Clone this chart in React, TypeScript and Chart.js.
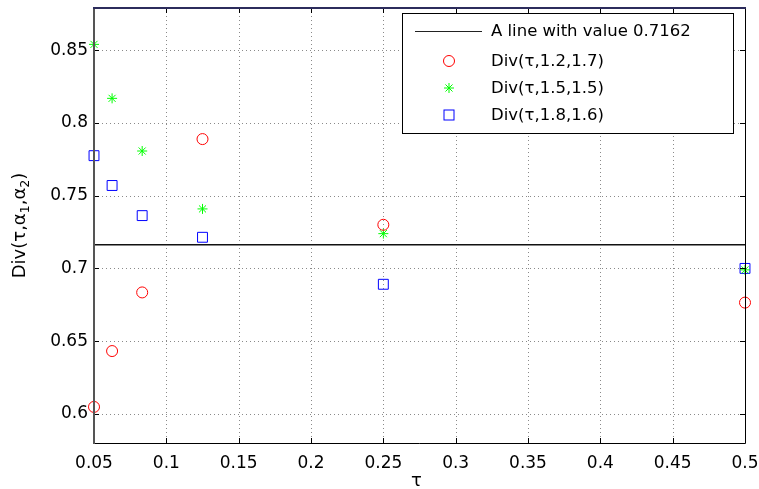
import React, { useEffect, useRef } from 'react';
import { Chart, registerables } from 'chart.js';

Chart.register(...registerables);

const tau = [0.05, 0.0625, 0.0833, 0.125, 0.25, 0.5];
const divA = [0.6048, 0.6432, 0.6835, 0.7889, 0.73, 0.6765];
const divB = [0.854, 0.8169, 0.7807, 0.7409, 0.7239, 0.699];
const divC = [0.7775, 0.757, 0.7363, 0.7214, 0.6891, 0.7];
const lineValue = 0.7162;
const xTicks = [0.05, 0.1, 0.15, 0.2, 0.25, 0.3, 0.35, 0.4, 0.45, 0.5];
const yTicks = [0.6, 0.65, 0.7, 0.75, 0.8, 0.85];
const legendLabels = [
  'A line with value 0.7162',
  'Div(τ,1.2,1.7)',
  'Div(τ,1.5,1.5)',
  'Div(τ,1.8,1.6)',
];

const FONT = "'DejaVu Sans', sans-serif";

function fmt(v: number) {
  return String(Number(v.toFixed(2)));
}

function drawMarker(ctx: CanvasRenderingContext2D, kind: string, x: number, y: number) {
  ctx.save();
  ctx.lineWidth = 1;
  if (kind === 'circle') {
    ctx.strokeStyle = '#ff0000';
    ctx.beginPath();
    ctx.arc(x, y, 5.5, 0, Math.PI * 2);
    ctx.stroke();
  } else if (kind === 'star') {
    ctx.strokeStyle = '#00ff00';
    const r = 5;
    const d = r * Math.SQRT1_2;
    ctx.beginPath();
    ctx.moveTo(x - r, y); ctx.lineTo(x + r, y);
    ctx.moveTo(x, y - r); ctx.lineTo(x, y + r);
    ctx.moveTo(x - d, y - d); ctx.lineTo(x + d, y + d);
    ctx.moveTo(x - d, y + d); ctx.lineTo(x + d, y - d);
    ctx.stroke();
  } else {
    ctx.strokeStyle = '#0000ff';
    ctx.strokeRect(x - 5, y - 5, 10, 10);
  }
  ctx.restore();
}

const decorPlugin = {
  id: 'decor',
  beforeDatasetsDraw(chart: any) {
    const ctx = chart.ctx as CanvasRenderingContext2D;
    const { left, right, top, bottom } = chart.chartArea;
    const xs = chart.scales.x;
    const ys = chart.scales.y;
    ctx.save();
    ctx.strokeStyle = '#8a8a8a';
    ctx.lineWidth = 1;
    ctx.setLineDash([1, 3]);
    xTicks.forEach((v) => {
      const px = Math.round(xs.getPixelForValue(v)) + 0.5;
      ctx.beginPath();
      ctx.moveTo(px, top);
      ctx.lineTo(px, bottom);
      ctx.stroke();
    });
    yTicks.forEach((v) => {
      const py = Math.round(ys.getPixelForValue(v)) + 0.5;
      ctx.beginPath();
      ctx.moveTo(left, py);
      ctx.lineTo(right, py);
      ctx.stroke();
    });
    ctx.restore();
  },
  afterDraw(chart: any) {
    const ctx = chart.ctx as CanvasRenderingContext2D;
    const { left, right, top, bottom } = chart.chartArea;
    const xs = chart.scales.x;
    const ys = chart.scales.y;
    ctx.save();
    // tick marks (inward)
    ctx.strokeStyle = '#000';
    ctx.lineWidth = 1;
    const tl = 5;
    xTicks.forEach((v) => {
      const px = Math.round(xs.getPixelForValue(v)) + 0.5;
      ctx.beginPath();
      ctx.moveTo(px, bottom); ctx.lineTo(px, bottom - tl);
      ctx.moveTo(px, top); ctx.lineTo(px, top + tl);
      ctx.stroke();
    });
    yTicks.forEach((v) => {
      const py = Math.round(ys.getPixelForValue(v)) + 0.5;
      ctx.beginPath();
      ctx.moveTo(left, py); ctx.lineTo(left + tl, py);
      ctx.moveTo(right, py); ctx.lineTo(right - tl, py);
      ctx.stroke();
    });
    // box
    ctx.strokeStyle = '#000';
    ctx.lineWidth = 1;
    ctx.beginPath();
    ctx.moveTo(right + 0.5, top);
    ctx.lineTo(right + 0.5, bottom + 0.5);
    ctx.lineTo(left, bottom + 0.5);
    ctx.stroke();
    ctx.strokeStyle = '#555';
    ctx.lineWidth = 2;
    ctx.beginPath();
    ctx.moveTo(left, top);
    ctx.lineTo(left, bottom + 1);
    ctx.stroke();
    ctx.strokeStyle = '#2c2c5c';
    ctx.lineWidth = 2;
    ctx.beginPath();
    ctx.moveTo(left - 1, top);
    ctx.lineTo(right + 1, top);
    ctx.stroke();

    // legend
    const lx0 = 402, ly0 = 13, lx1 = 733, ly1 = 133;
    ctx.fillStyle = '#fff';
    ctx.fillRect(lx0, ly0, lx1 - lx0, ly1 - ly0);
    ctx.strokeStyle = '#000';
    ctx.lineWidth = 1;
    ctx.strokeRect(lx0 + 0.5, ly0 + 0.5, lx1 - lx0, ly1 - ly0);
    const rows = [31, 61, 88, 115];
    ctx.beginPath();
    ctx.strokeStyle = '#222';
    ctx.lineWidth = 1.2;
    ctx.moveTo(415, rows[0] + 0.5);
    ctx.lineTo(482, rows[0] + 0.5);
    ctx.stroke();
    drawMarker(ctx, 'circle', 449, rows[1]);
    drawMarker(ctx, 'star', 449, rows[2]);
    drawMarker(ctx, 'square', 449, rows[3]);
    ctx.fillStyle = '#000';
    ctx.font = `16.5px ${FONT}`;
    ctx.textAlign = 'left';
    ctx.textBaseline = 'middle';
    legendLabels.forEach((t, i) => ctx.fillText(t, 491, rows[i] + 1));

    // x title
    ctx.font = `18px ${FONT}`;
    ctx.textAlign = 'center';
    ctx.fillText('τ', (left + right) / 2 - 3, 481);

    // y title with subscripts
    ctx.save();
    ctx.translate(19, (top + bottom) / 2);
    ctx.rotate(-Math.PI / 2);
    const big = `18px ${FONT}`;
    const small = `12.5px ${FONT}`;
    const parts: [string, boolean][] = [
      ['Div(τ,α', false], ['1', true], [',α', false], ['2', true], [')', false],
    ];
    let total = 0;
    parts.forEach(([s, sub]) => { ctx.font = sub ? small : big; total += ctx.measureText(s).width; });
    let cx = -total / 2;
    ctx.textAlign = 'left';
    ctx.textBaseline = 'alphabetic';
    parts.forEach(([s, sub]) => {
      ctx.font = sub ? small : big;
      ctx.fillText(s, cx, sub ? 10 : 6);
      cx += ctx.measureText(s).width;
    });
    ctx.restore();
    ctx.restore();
  },
};

export default function App() {
  const ref = useRef<HTMLCanvasElement | null>(null);
  useEffect(() => {
    if (!ref.current) return;
    const mk = (ys: number[]) => tau.map((x, i) => ({ x, y: ys[i] }));
    const chart = new Chart(ref.current, {
      type: 'scatter',
      data: {
        datasets: [
          {
            label: legendLabels[0],
            data: [{ x: xTicks[0], y: lineValue }, { x: xTicks[xTicks.length - 1], y: lineValue }],
            showLine: true,
            borderColor: '#111',
            borderWidth: 1.5,
            pointRadius: 0,
            clip: false,
          },
          {
            label: legendLabels[1],
            data: mk(divA),
            pointStyle: 'circle',
            pointRadius: 5.5,
            borderColor: '#ff0000',
            backgroundColor: 'rgba(0,0,0,0)',
            borderWidth: 1,
            clip: false,
          },
          {
            label: legendLabels[2],
            data: mk(divB),
            pointStyle: 'star',
            pointRadius: 5,
            borderColor: '#00ff00',
            backgroundColor: 'rgba(0,0,0,0)',
            borderWidth: 1,
            clip: false,
          },
          {
            label: legendLabels[3],
            data: mk(divC),
            pointStyle: 'rect',
            pointRadius: 7,
            borderColor: '#0000ff',
            backgroundColor: 'rgba(0,0,0,0)',
            borderWidth: 1,
            clip: false,
          },
        ],
      },
      options: {
        animation: false,
        responsive: false,
        maintainAspectRatio: false,
        layout: { padding: { left: 0, top: 6, right: 14, bottom: 0 } },
        plugins: { legend: { display: false }, tooltip: { enabled: false } },
        scales: {
          x: {
            type: 'linear',
            min: 0.05,
            max: 0.5,
            grid: { display: false, drawTicks: false },
            border: { display: false },
            afterBuildTicks: (s: any) => { s.ticks = xTicks.map((v) => ({ value: v })); },
            afterFit: (s: any) => { s.height = 46; s.paddingLeft = 0; s.paddingRight = 0; },
            ticks: {
              color: '#000',
              font: { family: FONT, size: 17 },
              padding: 10,
              maxRotation: 0,
              autoSkip: false,
              callback: (v: any) => fmt(Number(v)),
            },
          },
          y: {
            type: 'linear',
            min: 0.58,
            max: 0.879,
            grid: { display: false, drawTicks: false },
            border: { display: false },
            afterBuildTicks: (s: any) => { s.ticks = yTicks.map((v) => ({ value: v })); },
            afterFit: (s: any) => { s.width = 94; s.paddingTop = 0; s.paddingBottom = 0; },
            ticks: {
              color: '#000',
              font: { family: FONT, size: 17 },
              padding: 6,
              autoSkip: false,
              callback: (v: any) => fmt(Number(v)),
            },
          },
        },
      },
      plugins: [decorPlugin],
    });
    return () => chart.destroy();
  }, []);
  return (
    <div style={{ position: 'absolute', left: 0, top: 0, width: 759, height: 489, background: '#fff' }}>
      <canvas ref={ref} width={759} height={489} style={{ width: 759, height: 489, display: 'block' }} />
    </div>
  );
}
